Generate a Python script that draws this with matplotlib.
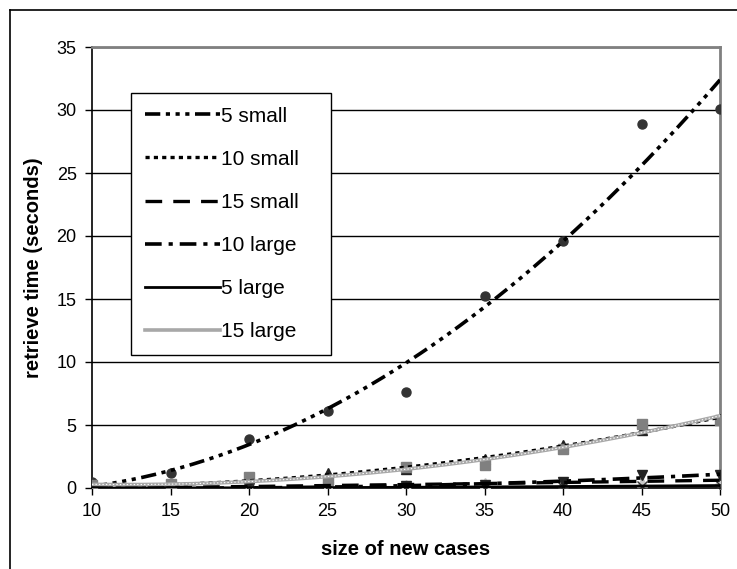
import numpy as np
import matplotlib
matplotlib.use("Agg")
import matplotlib.pyplot as plt
from matplotlib.lines import Line2D

plt.rcParams['font.family'] = ['Liberation Sans', 'DejaVu Sans']
plt.rcParams['lines.scale_dashes'] = False

sizes = [10, 15, 20, 25, 30, 35, 40, 45, 50]
labels = ["5 small", "10 small", "15 small", "10 large", "5 large", "15 large"]
v_5_small = [0.5, 1.2, 3.9, 6.1, 7.6, 15.2, 19.6, 28.9, 30.1]
v_10_small = [0.1, 0.3, 0.5, 1.2, 1.5, 2.3, 3.4, 4.6, 5.5]
v_15_small = [0.0, 0.05, 0.1, 0.15, 0.25, 0.4, 0.5, 0.5, 0.6]
v_10_large = [0.0, 0.0, 0.05, 0.1, 0.15, 0.25, 0.5, 1.0, 1.0]
v_5_large = [0.0, 0.0, 0.0, 0.05, 0.05, 0.1, 0.1, 0.15, 0.2]
v_15_large = [0.2, 0.3, 0.9, 0.6, 1.7, 1.8, 3.1, 5.1, 5.4]
series = [v_5_small, v_10_small, v_15_small, v_10_large, v_5_large, v_15_large]

markers = ['o', '^', '^', 'v', 'x', 's']
mcolors = ['#333333', '#222222', '#c8c8c8', '#222222', '#333333', '#808080']
lcolors = ['black', 'black', 'black', 'black', 'black', '#a8a8a8']
lstyles = [(0, (11, 4, 3, 4, 3, 4, 3, 4)), (0, (3, 3)), (0, (12, 8)),
           (0, (12, 5, 3, 5)), '-', '-']
lwidths = [2.6, 2.4, 2.4, 2.6, 2.0, 2.6]

fig = plt.figure(figsize=(7.37, 5.69), dpi=100)
ax = fig.add_axes([92/737, 1-488/569, (720-92)/737, (488-47)/569])

x = np.array(sizes, dtype=float)
xs = np.linspace(10, 50, 200)
handles = []
for vals, mk, mc, lc, ls, lw, lab in zip(series, markers, mcolors, lcolors, lstyles, lwidths, labels):
    ax.plot(x, vals, linestyle='none', marker=mk, color=mc, markersize=6.5, zorder=3)
    coef = np.polyfit(x, vals, 2)
    h, = ax.plot(xs, np.polyval(coef, xs), color=lc, linestyle=ls, linewidth=lw, zorder=4, label=lab)
    if lab == "15 large":
        ax.plot(xs, np.polyval(coef, xs), color='white', linestyle=(0, (1, 1.5)), linewidth=0.8, zorder=4.5)
    handles.append(h)

ax.set_xlim(10, 50)
ax.set_ylim(0, 35)
ax.set_xticks(sizes)
ax.set_yticks(range(0, 36, 5))
ax.yaxis.grid(True, color='black', linewidth=1.0)
ax.set_axisbelow(True)
ax.tick_params(axis='both', labelsize=13, direction='out', length=5, width=1, color='black', pad=6)
for s in ['left', 'bottom']:
    ax.spines[s].set_color('black')
    ax.spines[s].set_linewidth(1.2)
for s in ['top', 'right']:
    ax.spines[s].set_color('#808080')
    ax.spines[s].set_linewidth(2)

ax.set_xlabel('size of new cases', fontsize=14.5, fontweight='bold', labelpad=14)
ax.set_ylabel('retrieve time (seconds)', fontsize=14.5, fontweight='bold', labelpad=10)

leg = ax.legend(handles=handles, loc='upper left',
                bbox_to_anchor=(131/737, 1-352/569, 200/737, (352-93)/569),
                bbox_transform=fig.transFigure, mode='expand', fontsize=15, handlelength=3.6,
                handletextpad=0.05, labelspacing=1.16, borderpad=0.65, borderaxespad=0,
                fancybox=False, edgecolor='black', framealpha=1)
leg.get_frame().set_linewidth(1.0)
leg.set_zorder(10)

# outer chart border (left and top visible)
fig.add_artist(Line2D([10/737, 10/737], [0, 1-10/569], transform=fig.transFigure, color='black', linewidth=1.2))
fig.add_artist(Line2D([10/737, 1], [1-10/569, 1-10/569], transform=fig.transFigure, color='black', linewidth=1.2))

fig.savefig('out.png', dpi=100)
